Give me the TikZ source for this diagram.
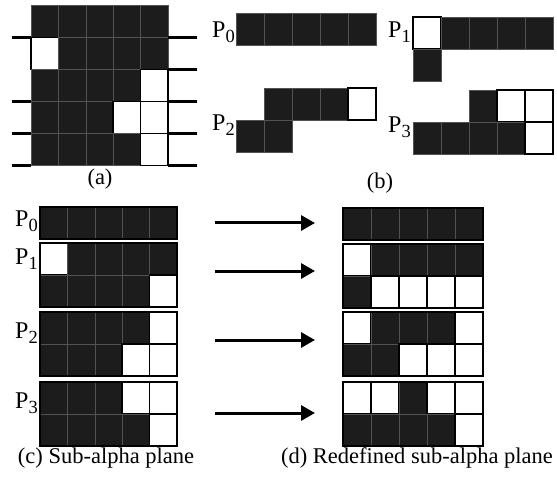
\documentclass[tikz,border=0pt]{standalone}
\usepackage{fontspec}
\setmainfont{Liberation Serif}
\usetikzlibrary{arrows.meta}
\tikzset{
  darkcell/.style={fill=black!89,draw=black!68,line width=0.5pt},
  whitecell/.style={fill=white,draw=black,line width=1.7pt},
  frame/.style={draw=black,line width=1.7pt},
  cut/.style={draw=black,line width=2.4pt},
  line/.style={-{Triangle[length=14pt,width=15pt]},line width=3pt},
  lab/.style={font=\fontsize{22.5}{26}\selectfont,inner sep=0pt}
}
\newcommand\plab[1]{{\fontsize{24}{26}\selectfont P}\raisebox{-5pt}{\fontsize{18.5}{19}\selectfont #1}}
% one row of cells: x, y, list (1 dark, 0 white, 2 empty)
\newcommand\cellrow[3]{%
  \foreach \k [count=\i from 0] in {#3}{%
    \ifcase\k\relax
      \path[whitecell] ({#1+\i*\cw},#2) rectangle ++(\cw,\ch);
    \or
      \path[darkcell] ({#1+\i*\cw},#2) rectangle ++(\cw,\ch);
    \fi}}

\begin{document}
\begin{tikzpicture}[x=1pt,y=-1pt]
\useasboundingbox (0,0) rectangle (557,481);

% (a) alpha plane
\def\cw{27.4}\def\ch{32}
\cellrow{31}{5.5}{1,1,1,1,1}
\cellrow{31}{37.5}{0,1,1,1,1}
\cellrow{31}{69.5}{1,1,1,1,0}
\cellrow{31}{101.5}{1,1,1,0,0}
\cellrow{31}{133.5}{1,1,1,1,0}
\foreach \y in {37.5,101.5,133.5,165.5}
  \draw[cut] (12,\y) -- (31,\y);
\foreach \y in {37.5,69.5,101.5,133.5,165.5}
  \draw[cut] (168,\y) -- (197,\y);
\node[lab,anchor=base] (capa) at (100,185) {(a)};

% (b) partitions
\def\cw{28}\def\ch{32}
\cellrow{236}{13}{1,1,1,1,1}
\cellrow{413}{17}{0,1,1,1,1}
\cellrow{413}{49}{1}
\cellrow{236}{88}{2,1,1,1,0}
\cellrow{236}{120}{1,1}
\cellrow{413}{90}{2,2,1,0,0}
\cellrow{413}{122}{1,1,1,1,0}
\node[lab,anchor=base east] (bp0) at (235,38) {\plab{0}};
\node[lab,anchor=base east] (bp1) at (411,38) {\plab{1}};
\node[lab,anchor=base east] (bp2) at (235,131) {\plab{2}};
\node[lab,anchor=base east] (bp3) at (411,133) {\plab{3}};
\node[lab,anchor=base] (capb) at (380,189) {(b)};

% (c) sub-alpha plane
\def\cw{27.4}\def\ch{32}
\cellrow{40}{207}{1,1,1,1,1}
\cellrow{40}{243}{0,1,1,1,1}
\cellrow{40}{275}{1,1,1,1,0}
\cellrow{40}{312}{1,1,1,1,0}
\cellrow{40}{344}{1,1,1,0,0}
\cellrow{40}{382}{1,1,1,0,0}
\cellrow{40}{414}{1,1,1,1,0}
\draw[frame] (40,207) rectangle ++(137,32);
\draw[frame] (40,243) rectangle ++(137,64);
\draw[frame] (40,312) rectangle ++(137,64);
\draw[frame] (40,382) rectangle ++(137,64);
\node[lab,anchor=base east] (cp0) at (38,227) {\plab{0}};
\node[lab,anchor=base east] (cp1) at (38,265) {\plab{1}};
\node[lab,anchor=base east] (cp2) at (38,338) {\plab{2}};
\node[lab,anchor=base east] (cp3) at (38,408) {\plab{3}};
\node[lab,anchor=base] (capc) at (106,463) {(c) Sub-alpha plane};

% (d) redefined sub-alpha plane
\def\cw{28}\def\ch{32}
\cellrow{343}{208}{1,1,1,1,1}
\cellrow{343}{244}{0,1,1,1,1}
\cellrow{343}{276}{1,0,0,0,0}
\cellrow{343}{312}{0,1,1,1,0}
\cellrow{343}{344}{1,1,0,0,0}
\cellrow{343}{382}{0,0,1,0,0}
\cellrow{343}{414}{1,1,1,1,0}
\draw[frame] (343,208) rectangle ++(140,32);
\draw[frame] (343,244) rectangle ++(140,64);
\draw[frame] (343,312) rectangle ++(140,64);
\draw[frame] (343,382) rectangle ++(140,64);
\node[lab,anchor=base] (capd) at (417,463) {(d) Redefined sub-alpha plane};

% arrows (c) -> (d)
\coordinate (c0) at (215,223);
\coordinate (d0) at (315,223);
\coordinate (c1) at (215,271);
\coordinate (d1) at (315,271);
\coordinate (c2) at (215,340);
\coordinate (d2) at (315,340);
\coordinate (c3) at (215,413);
\coordinate (d3) at (315,413);
\foreach \n in {0,1,2,3}
  \draw[line] (c\n) -- (d\n);
\end{tikzpicture}
\end{document}
